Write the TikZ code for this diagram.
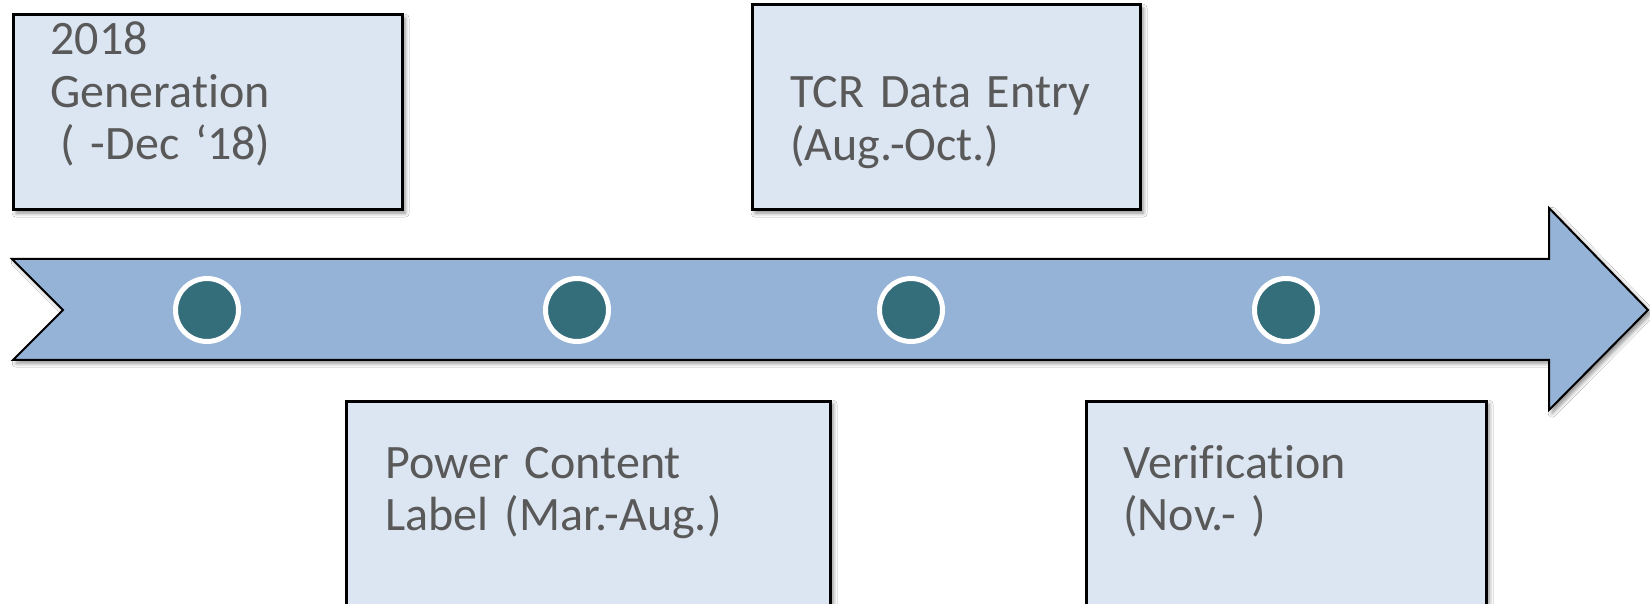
\documentclass[tikz,border=0pt]{standalone}
\usepackage{fontspec}
\setmainfont[RawFeature={-liga;-clig;-dlig}]{Carlito}
\usetikzlibrary{shadows.blur}
\definecolor{arrowfill}{HTML}{95B3D7}
\definecolor{boxfill}{HTML}{DCE6F2}
\definecolor{dotfill}{HTML}{346E7B}
\definecolor{txt}{HTML}{595959}
\tikzset{
  x=0.5pt, y=-0.5pt,
  myshadow/.style={blur shadow={shadow xshift=1.6pt, shadow yshift=-1.6pt, shadow blur radius=2pt, shadow blur steps=6, shadow opacity=45}},
  stagebox/.style={draw=black, line width=1.5pt, fill=boxfill, rectangle, inner sep=0pt, myshadow},
  stagetext/.style={anchor=base west, inner sep=0pt, text width=190pt, align=left, text=txt, font=\fontsize{24}{26.25}\selectfont},
  dot/.style={circle, fill=dotfill, draw=white, line width=2.5pt, minimum size=31.5pt, inner sep=0pt}
}
\begin{document}
\begin{tikzpicture}
\useasboundingbox (0,0) rectangle (1650,604);
\clip (0,0) rectangle (1650,604);
\fill[white] (0,0) rectangle (1650,604);
% timeline arrow
\path[draw=black, line width=1pt, fill=arrowfill, line join=miter, myshadow]
  (12,259) -- (1549,259) -- (1549,208) -- (1648,310) -- (1549,410) -- (1549,360) -- (13,360) -- (63,310) -- cycle;
% dots
\node[dot] (c1) at (207,310) {};
\node[dot] (c2) at (577,310) {};
\node[dot] (c3) at (911,310) {};
\node[dot] (c4) at (1286,310) {};
% boxes
\node[stagebox, minimum width=194.5pt, minimum height=97.5pt] (b1) at (207.5,112.5) {};
\node[stagebox, minimum width=194pt, minimum height=102.5pt] (b3) at (946,107.5) {};
\node[stagebox, minimum width=242pt, minimum height=129.5pt] (b2) at (588,530.5) {};
\node[stagebox, minimum width=200pt, minimum height=129.5pt] (b4) at (1286,530.5) {};
% texts
\node[stagetext] (t1) at (50,55) {2018\\Generation\\\hspace*{5pt}(\ -Dec ‘18)};
\node[stagetext] (t3) at (790,108) {TCR Data Entry\\(Aug.-Oct.)};
\node[stagetext] (t2) at (385,478) {Power Content\\Label (Mar.-Aug.)};
\node[stagetext] (t4) at (1123,478) {Verification\\(Nov.- )};
\end{tikzpicture}
\end{document}
